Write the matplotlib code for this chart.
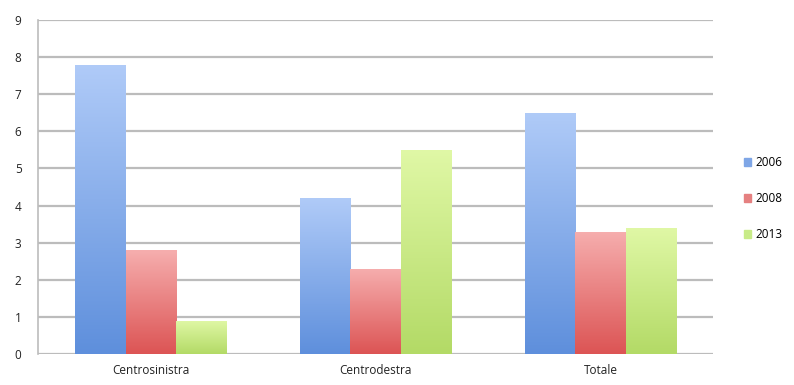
import matplotlib.pyplot as plt
from matplotlib.colors import LinearSegmentedColormap
from matplotlib.patches import Patch
import numpy as np

categorie = ["Centrosinistra", "Centrodestra", "Totale"]
anni = ["2006", "2008", "2013"]
v2006 = [7.8, 4.2, 6.5]
v2008 = [2.8, 2.3, 3.3]
v2013 = [0.9, 5.5, 3.4]
serie = [v2006, v2008, v2013]

# colori: (alto, basso) per il gradiente
colori = [("#b0cbf8", "#5e8fdc"), ("#f6aeae", "#dc5454"), ("#e0f8a6", "#b3da66")]
legenda_col = ["#7fa6e6", "#e58080", "#c8eb88"]

plt.rcParams['font.family'] = ['Open Sans', 'DejaVu Sans']

fig = plt.figure(figsize=(7.94, 3.85), dpi=100)
ax = fig.add_axes([0.048, 0.0805, 0.85, 0.8675])

x = np.arange(len(categorie))
w = 0.223
grad = np.linspace(0, 1, 256).reshape(-1, 1)

for i, vals in enumerate(serie):
    cmap = LinearSegmentedColormap.from_list("g%d" % i, [colori[i][1], colori[i][0]])
    bars = ax.bar(x + (i - 1) * w, vals, w, color="none", edgecolor="none", zorder=3)
    for b in bars:
        bx, by = b.get_x(), b.get_y()
        bw, bh = b.get_width(), b.get_height()
        im = ax.imshow(grad, cmap=cmap, origin="lower", aspect="auto",
                       extent=[bx, bx + bw, by, by + bh], zorder=3)
        im.set_clip_path(b)

ax.set_xlim(-0.5, 2.5)
ax.set_ylim(0, 9)
ax.set_yticks(range(0, 10))
ax.set_xticks(x)
ax.set_xticklabels(categorie)
ax.tick_params(axis="both", length=0, labelsize=8.5, colors="#222222")
ax.tick_params(axis="y", pad=12)
ax.tick_params(axis="x", pad=7)
ax.grid(axis="y", color="#bcbcbc", linewidth=1.6, zorder=0)
for s in ["top", "right", "bottom"]:
    ax.spines[s].set_visible(False)
ax.spines["left"].set_color("#bcbcbc")
ax.spines["left"].set_linewidth(1.2)

handles = [Patch(color=c) for c in legenda_col]
ax.legend(handles, anni, loc="center left", bbox_to_anchor=(1.03, 0.465), frameon=False,
          fontsize=8.5, handlelength=0.6, handleheight=0.6, handletextpad=0.4, labelspacing=1.95)

fig.savefig("out.png", dpi=100)
